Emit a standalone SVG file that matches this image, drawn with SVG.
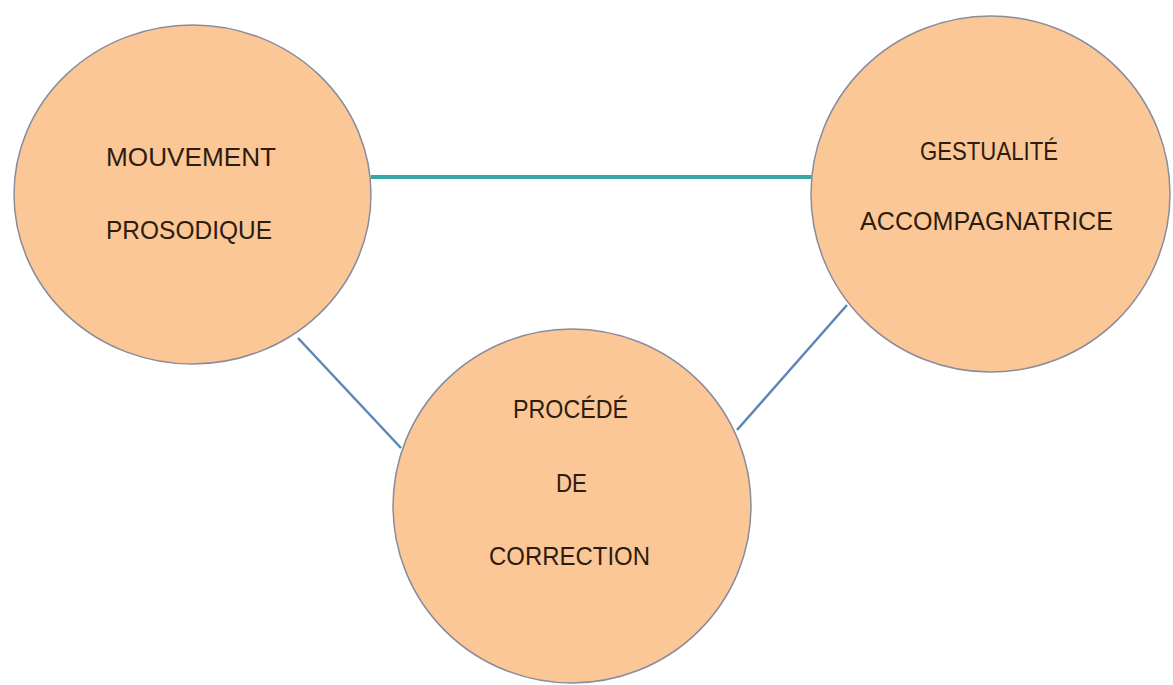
<svg xmlns="http://www.w3.org/2000/svg" width="1173" height="685" viewBox="0 0 1173 685">
<style>
.node{fill:#fcc797;stroke:#8a8c9c;stroke-width:1.5}
.lbl{font-family:"Liberation Sans",Arial,sans-serif;font-size:26px;fill:#2e1c0e}
.teal{stroke:#39a6a9;stroke-width:4;fill:none}
.blue{stroke:#5b86b6;stroke-width:2.5;fill:none}
</style>
<rect width="1173" height="685" fill="#ffffff"/>
<g id="connectors">
<line class="teal" x1="371" y1="177" x2="812" y2="177"/>
<line class="blue" x1="298" y1="338" x2="401" y2="448"/>
<line class="blue" x1="847" y1="305" x2="737" y2="430"/>
</g>
<g id="mouvement">
<ellipse class="node" cx="192.5" cy="194.5" rx="178.5" ry="169.5"/>
<text class="lbl" x="106" y="166" textLength="170" lengthAdjust="spacingAndGlyphs">MOUVEMENT</text>
<text class="lbl" x="106" y="239" textLength="166" lengthAdjust="spacingAndGlyphs">PROSODIQUE</text>
</g>
<g id="gestualite">
<ellipse class="node" cx="990.5" cy="194" rx="179.5" ry="178"/>
<text class="lbl" x="920" y="160" textLength="138" lengthAdjust="spacingAndGlyphs">GESTUALITÉ</text>
<text class="lbl" x="860" y="230" textLength="253" lengthAdjust="spacingAndGlyphs">ACCOMPAGNATRICE</text>
</g>
<g id="procede">
<ellipse class="node" cx="572" cy="506" rx="179" ry="177"/>
<text class="lbl" x="513" y="418" textLength="115" lengthAdjust="spacingAndGlyphs">PROCÉDÉ</text>
<text class="lbl" x="556" y="492" textLength="31" lengthAdjust="spacingAndGlyphs">DE</text>
<text class="lbl" x="489" y="565" textLength="161" lengthAdjust="spacingAndGlyphs">CORRECTION</text>
</g>
</svg>
